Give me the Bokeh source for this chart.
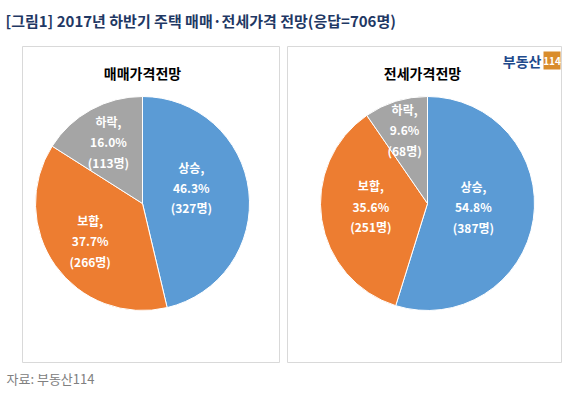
import math
from bokeh.plotting import figure
from bokeh.models import Range1d
from bokeh.core.properties import value
from bokeh.embed import file_html
from bokeh.resources import INLINE

# ---- data ----
categories = ["상승", "보합", "하락"]
sale_pct = [46.3, 37.7, 16.0]
sale_cnt = [327, 266, 113]
jeonse_pct = [54.8, 35.6, 9.6]
jeonse_cnt = [387, 251, 68]
chart_titles = ["매매가격전망", "전세가격전망"]
main_title = "[그림1] 2017년 하반기 주택 매매·전세가격 전망(응답=706명)"
source_text = "자료: 부동산114"
colors = ["#5b9bd5", "#ed7d31", "#a5a5a5"]

W, H = 563, 389
FONT = value("Noto Sans CJK KR")


def X(sx):
    return sx


def Y(sy):
    return H - sy


p = figure(width=W, height=H, x_range=Range1d(0, W), y_range=Range1d(0, H),
           output_backend="svg", toolbar_location=None, min_border=0)
p.axis.visible = False
p.grid.visible = False
p.outline_line_color = None
p.background_fill_color = "white"
p.border_fill_color = "white"

# title
p.text(x=[X(5)], y=[Y(20)], text=[main_title], text_font=FONT,
       text_font_size="15px", text_font_style="bold", text_color="#1f3864",
       text_baseline="middle", text_align="left")
# source
p.text(x=[X(6)], y=[Y(378)], text=[source_text], text_font=FONT,
       text_font_size="13px", text_color="#808080",
       text_baseline="middle", text_align="left")

panels = [
    dict(l=22, r=279, t=46, b=362, cx=142, cy=203, pct=sale_pct, cnt=sale_cnt,
         title=chart_titles[0], tx=142, rf=[0.48, 0.6, 0.66], da=[0.2, 0.0, 0.0]),
    dict(l=287, r=561, t=46, b=362, cx=427, cy=203, pct=jeonse_pct, cnt=jeonse_cnt,
         title=chart_titles[1], tx=422, rf=[0.43, 0.53, 0.72], da=[0.08, 0.1, 0.0]),
]
R = 107

for pn in panels:
    p.quad(left=[X(pn["l"])], right=[X(pn["r"])], top=[Y(pn["t"])], bottom=[Y(pn["b"])],
           fill_color="white", line_color="#d9d9d9", line_width=1)
    p.text(x=[X(pn["tx"])], y=[Y(72)], text=[pn["title"]], text_font=FONT,
           text_font_size="14px", text_font_style="bold", text_color="#000000",
           text_align="center", text_baseline="middle")
    total = sum(pn["pct"])
    cum = 0.0
    starts, ends, lx, ly, labels = [], [], [], [], []
    for i, (v, c) in enumerate(zip(pn["pct"], pn["cnt"])):
        a0 = math.pi / 2 - 2 * math.pi * cum / total
        a1 = math.pi / 2 - 2 * math.pi * (cum + v) / total
        starts.append(a0)
        ends.append(a1)
        mid = (a0 + a1) / 2 + pn["da"][i] * (1 if i == 0 else -1)
        rr = R * pn["rf"][i]
        lx.append(X(pn["cx"]) + rr * math.cos(mid))
        ly.append(Y(pn["cy"]) + rr * math.sin(mid))
        labels.append(f"{categories[i]},\n{v:.1f}%\n({c}명)")
        cum += v
    p.wedge(x=X(pn["cx"]), y=Y(pn["cy"]), radius=R, start_angle=starts, end_angle=ends,
            direction="clock", fill_color=colors, line_color="white", line_width=1)
    p.text(x=lx, y=ly, text=labels, text_font=FONT, text_font_size="12px",
           text_font_style="bold", text_color="white", text_align="center",
           text_baseline="middle", text_line_height=1.2)

# logo
p.text(x=[X(541)], y=[Y(60)], text=["부동산"], text_font=FONT, text_font_size="14px",
       text_font_style="bold", text_color="#1e4a8c", text_align="right",
       text_baseline="middle")
p.quad(left=[X(543)], right=[X(560)], top=[Y(51)], bottom=[Y(69)],
       fill_color="#d98c2b", line_color=None)
p.text(x=[X(551.5)], y=[Y(60)], text=["114"], text_font=FONT, text_font_size="10px",
       text_font_style="bold", text_color="white", text_align="center",
       text_baseline="middle")

open("out.html", "w").write(file_html(p, INLINE))
